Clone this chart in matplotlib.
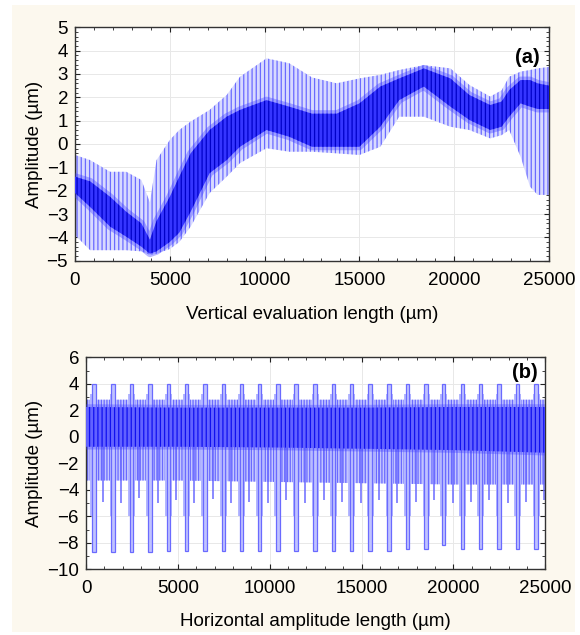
import matplotlib
matplotlib.use('Agg')
import matplotlib.pyplot as plt
from matplotlib.patches import Rectangle
from matplotlib.ticker import MultipleLocator

plt.rcParams['font.family'] = ['Liberation Sans', 'DejaVu Sans']
plt.rcParams['hatch.linewidth'] = 0.9

# ---- panel (a): envelopes (um) ----
a_x = [0, 800, 1850, 2700, 3500, 3950, 4300, 5000, 5500, 6100, 7100, 8000, 8700,
       10100, 11300, 12500, 13800, 15000, 16100, 17100, 18400, 19800, 20800,
       21900, 22500, 22900, 23500, 24000, 24400, 25000]
a_light_top = [-0.47, -0.69, -1.19, -1.19, -1.54, -2.5, -0.69, 0.17, 0.6, 0.96, 1.46, 2.1, 2.88,
               3.67, 3.46, 2.85, 2.6, 2.81, 2.96, 3.17, 3.38, 3.24, 2.53,
               2.03, 2.3, 2.88, 3.1, 3.17, 3.24, 3.3]
a_core_top = [-1.4, -1.6, -2.26, -2.9, -3.4, -4.1, -3.3, -2.26, -1.4, -0.4, 0.6, 1.17, 1.46,
              1.88, 1.6, 1.3, 1.3, 1.74, 2.46, 2.81, 3.24, 2.81, 2.1,
              1.67, 1.82, 2.31, 2.74, 2.74, 2.6, 2.5]
a_core_bot = [-2.1, -2.7, -3.54, -3.97, -4.4, -4.7, -4.6, -4.2, -3.8, -2.9, -1.25, -0.69, -0.12,
              0.6, 0.31, -0.12, -0.12, -0.12, 0.74, 1.88, 2.46, 1.6, 1.03,
              0.6, 0.74, 1.17, 1.74, 1.6, 1.5, 1.5]
a_light_bot = [-3.9, -4.55, -4.55, -4.55, -4.6, -4.75, -4.7, -4.5, -4.2, -3.54, -2.1, -1.4, -0.82,
               -0.18, -0.33, -0.33, -0.4, -0.47, -0.12, 1.17, 1.17, 0.74, 0.6,
               0.24, 0.38, 0.6, -0.54, -1.83, -2.18, -2.18]

# ---- panel (b) ----
b_x = [0, 5000, 10000, 15000, 20000, 25000]
b_light_top = [2.8, 2.8, 2.8, 2.8, 2.8, 2.8]
b_core_top = [2.25, 2.2, 2.2, 2.2, 2.25, 2.25]
b_core_bot = [-0.75, -0.75, -0.8, -0.9, -1.0, -1.2]
b_light_bot = [-3.3, -3.3, -3.4, -3.5, -3.6, -3.6]

b_spike_x = [430, 1470, 2480, 3480, 4480, 5470, 6470, 7470, 8460, 9460, 10450,
             11430, 12470, 13460, 14460, 15460, 16500, 17490, 18510, 19450,
             20480, 21490, 22480, 23500, 24500]
b_spike_hi = [4.0] * 25
b_spike_lo = [-8.7, -8.7, -8.7, -8.7, -8.6, -8.6, -8.6, -8.6, -8.6, -8.6, -8.6,
              -8.6, -8.6, -8.6, -8.6, -8.6, -8.6, -8.5, -8.5, -8.2, -8.5,
              -8.5, -8.5, -8.5, -8.5]
b_cluster_lo = [-6.0] * 25

b_mid_x = [900, 1900, 2900, 3900, 4900, 5900, 6900, 7900, 8890, 9890, 10900,
           11900, 12950, 13950, 14950, 15950, 16950, 17950, 18950, 19950,
           20950, 21950, 22950, 23950, 24950]
b_mid_lo = [-4.9, -5.0, -4.6, -5.0, -4.8, -5.0, -4.7, -5.0, -4.9, -5.0, -4.8,
            -5.0, -4.8, -4.9, -5.0, -4.8, -5.0, -4.9, -4.8, -5.0,
            -4.9, -4.8, -5.0, -4.9, -4.8]

PALE = '#d8daff'
MID = '#6a6aff'
CORE = '#3535ff'
COREH = '#0000c8'

fig = plt.figure(figsize=(5.8, 6.35), dpi=100, facecolor='white')
fig.patches.append(Rectangle((12 / 580, 3 / 635), 563 / 580, 627 / 635,
                             transform=fig.transFigure, facecolor='#fcf8ee',
                             edgecolor='none', zorder=-10))

ax1 = fig.add_axes([75 / 580, 1 - 260.7 / 635, 474 / 580, 233.4 / 635])
ax2 = fig.add_axes([86 / 580, 1 - 569.3 / 635, 459.3 / 580, 212 / 635])

# (a)
ax1.fill_between(a_x, a_light_bot, a_light_top, facecolor=PALE, edgecolor=MID,
                 hatch='||||', linewidth=0, zorder=2)
ax1.fill_between(a_x, a_core_bot, a_core_top, facecolor='none',
                 edgecolor=(0.2, 0.2, 1.0, 0.35), linewidth=5, zorder=2.8)
ax1.fill_between(a_x, a_core_bot, a_core_top, facecolor=CORE, edgecolor=COREH,
                 hatch='||||', linewidth=0, zorder=3)

# (b)
ax2.fill_between(b_x, b_light_bot, b_light_top, facecolor='#c4c6ff', edgecolor=MID,
                 hatch='||||||', linewidth=0, zorder=2)
ax2.bar(b_spike_x, [3.2 - l for l in b_cluster_lo], bottom=b_cluster_lo,
        width=380, facecolor='#b4b7ff', edgecolor='none', zorder=2.2)
ax2.vlines(b_mid_x, b_mid_lo, 0, color=MID, linewidth=1.1, zorder=2.3)
ax2.bar(b_spike_x, [h - l for h, l in zip(b_spike_hi, b_spike_lo)], bottom=b_spike_lo,
        width=180, facecolor='#c0c3ff', edgecolor=MID, linewidth=0.9, zorder=2.5)
ax2.fill_between(b_x, b_core_bot, b_core_top, facecolor='none',
                 edgecolor=(0.25, 0.25, 1.0, 0.35), linewidth=4, zorder=2.8)
ax2.fill_between(b_x, b_core_bot, b_core_top, facecolor='#6262ff', edgecolor='#1010f0',
                 hatch='||||', linewidth=0, zorder=3)

for ax in (ax1, ax2):
    ax.set_facecolor('white')
    ax.set_xlim(0, 25000)
    ax.xaxis.set_major_locator(MultipleLocator(5000))
    ax.xaxis.set_minor_locator(MultipleLocator(1000))
    ax.grid(True, which='major', color='#e8e8e8', linewidth=0.7, zorder=0)
    ax.set_axisbelow(True)
    ax.tick_params(which='both', direction='in', top=True, right=True, colors='#222222',
                   labelcolor='black', labelsize=13.5)
    ax.tick_params(which='major', length=3.5, width=0.8)
    ax.tick_params(which='minor', length=2.2, width=0.6)
    ax.tick_params(axis='x', pad=8)
    ax.tick_params(axis='y', pad=5)
    for s in ax.spines.values():
        s.set_color('#333333')
        s.set_linewidth(1.0)

ax1.set_ylim(-5, 5)
ax1.yaxis.set_major_locator(MultipleLocator(1))
ax1.yaxis.set_minor_locator(MultipleLocator(0.2))
ax2.set_ylim(-10, 6)
ax2.yaxis.set_major_locator(MultipleLocator(2))
ax2.yaxis.set_minor_locator(MultipleLocator(1))

ax1.set_ylabel('Amplitude (µm)', fontsize=13.5)
ax1.yaxis.set_label_coords(-0.0675, 0.5)
ax1.set_xlabel('Vertical evaluation length (µm)', fontsize=13.5)
ax1.xaxis.set_label_coords(0.5, -0.194)
ax2.set_ylabel('Amplitude (µm)', fontsize=13.5)
ax2.yaxis.set_label_coords(-0.0936, 0.5)
ax2.set_xlabel('Horizontal amplitude length (µm)', fontsize=13.5)
ax2.xaxis.set_label_coords(0.5, -0.206)

ax1.text(0.981, 0.91, '(a)', transform=ax1.transAxes, ha='right', va='top',
         fontsize=14.5, fontweight='bold', zorder=5)
ax2.text(0.983, 0.972, '(b)', transform=ax2.transAxes, ha='right', va='top',
         fontsize=14.5, fontweight='bold', zorder=5)

fig.savefig('out.png', dpi=100, facecolor=fig.get_facecolor())
